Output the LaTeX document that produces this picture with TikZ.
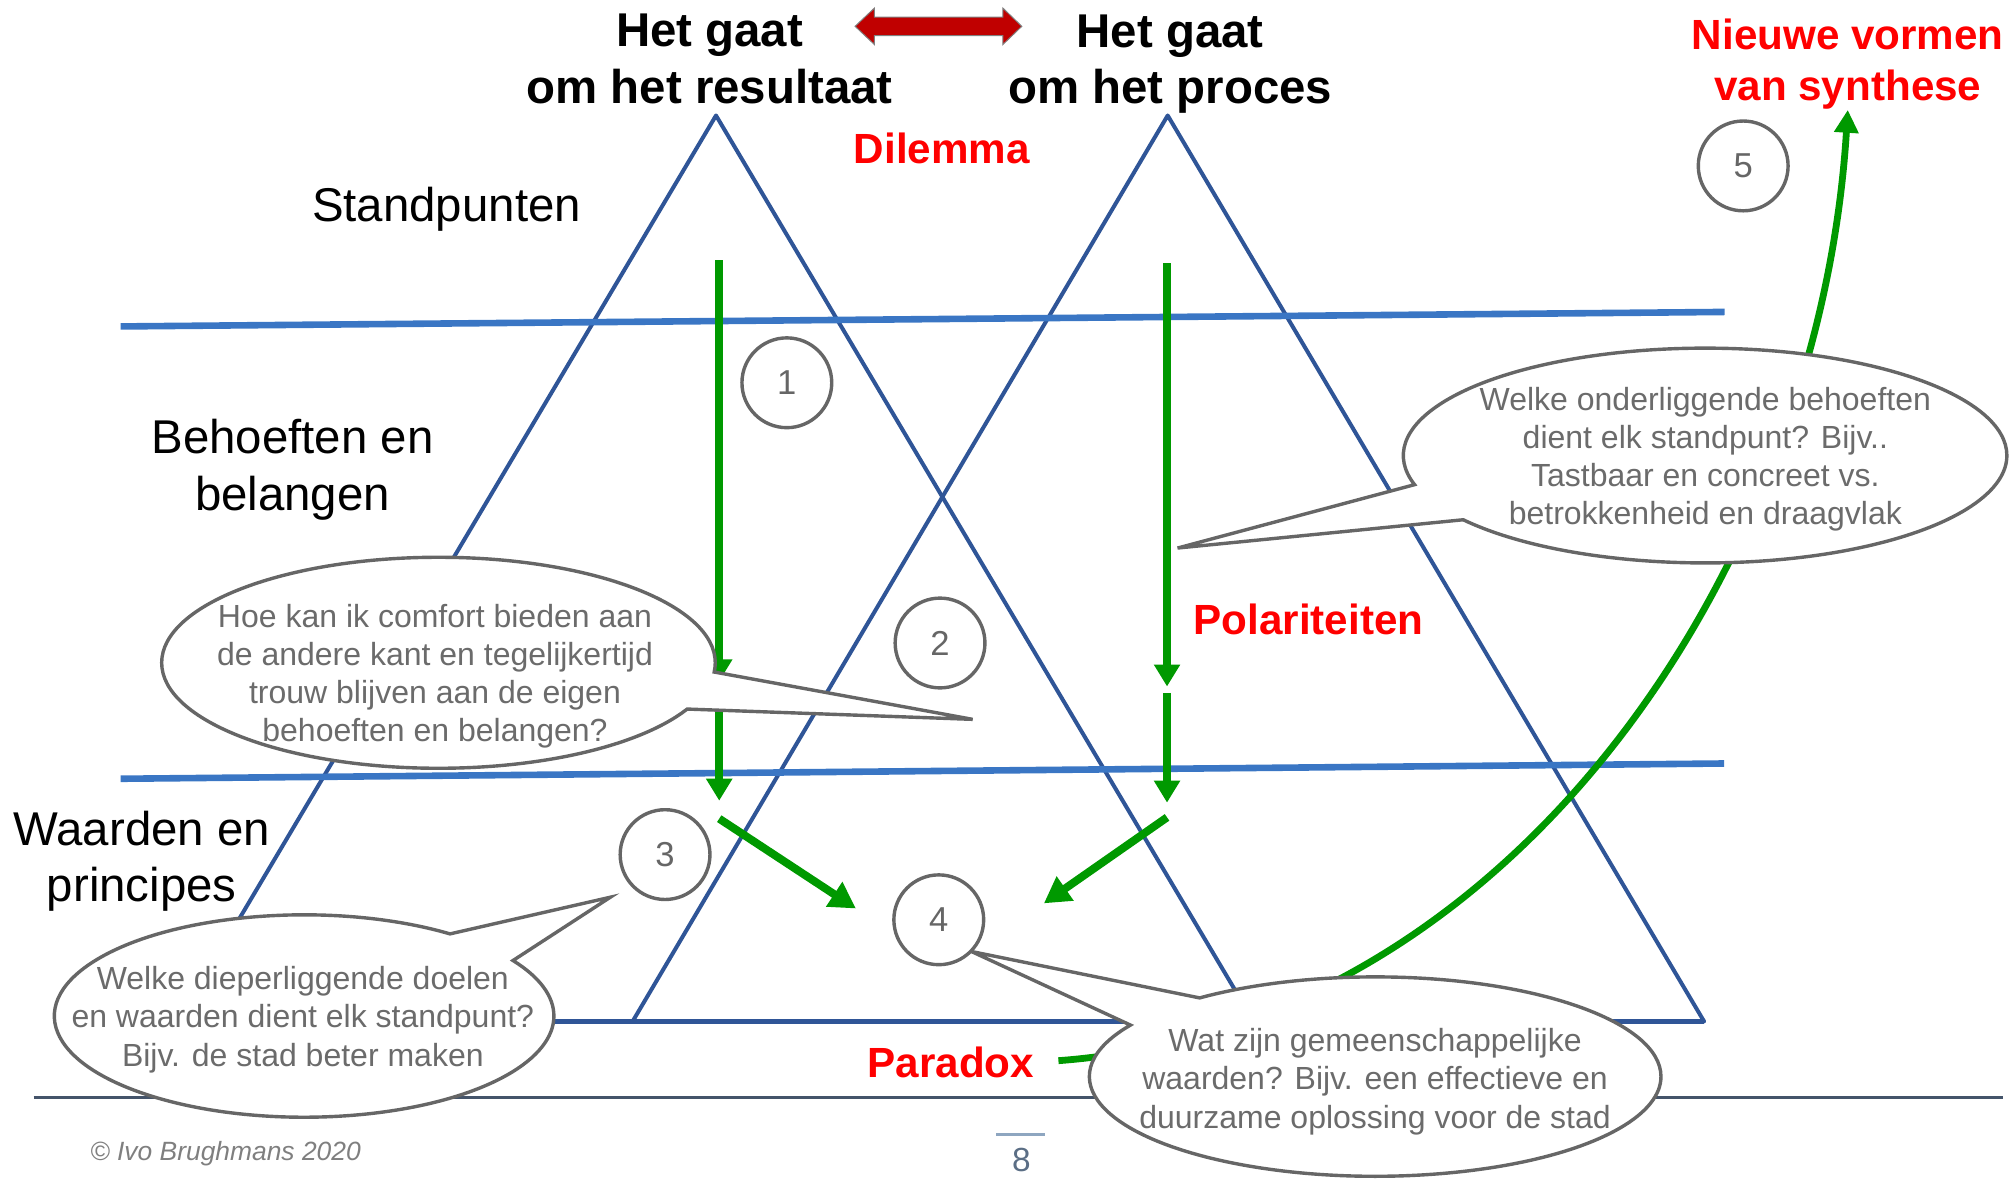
\documentclass[tikz,border=0pt]{standalone}
\usepackage{fontspec}
\setmainfont{Liberation Sans}
\usetikzlibrary{arrows.meta,shapes.callouts}
\definecolor{triblue}{HTML}{2F5597}
\definecolor{lvlblue}{HTML}{3A76C4}
\definecolor{okgreen}{HTML}{009900}
\definecolor{callgray}{HTML}{666666}
\definecolor{saygray}{HTML}{6B6B6B}
\definecolor{darkred}{HTML}{C00000}
\definecolor{footslate}{HTML}{44546A}
\definecolor{pagegray}{HTML}{8EA6C0}
\definecolor{pagenum}{HTML}{5B6E85}
\definecolor{copygray}{HTML}{7F7F7F}
\begin{document}
\begin{tikzpicture}[x=0.6416pt, y=-0.6416pt,
	ttl/.style={font=\bfseries\fontsize{23.7}{28.2}\selectfont, align=center, inner sep=0},
	lbl/.style={font=\fontsize{23.7}{28.2}\selectfont, align=center, inner sep=0},
	hot/.style={text=red, font=\bfseries\fontsize{21.1}{25.7}\selectfont, align=center, inner sep=0},
	nr/.style={circle, draw=callgray, line width=1.7pt, fill=white, minimum size=44.9pt, inner sep=0, text=callgray, font=\fontsize{17.3}{20}\selectfont},
	bub/.style={ellipse callout, draw=callgray, line width=1.7pt, fill=white, inner sep=0, callout pointer arc=21},
	say/.style={text=saygray, font=\fontsize{16}{19.1}\selectfont, align=center, inner sep=0},
	tri/.style={draw=triblue, line width=2pt, line join=round},
	lvl/.style={draw=lvlblue, line width=3.3pt},
	grn/.style={draw=okgreen, line width=4pt, -{Triangle[length=11pt,width=12.5pt]}}]
	
	\useasboundingbox (0,0) rectangle (1568,919);
	
	\draw[tri] (558,90) -- (139,796) -- (977,796) -- cycle;
	\draw[tri] (910,90) -- (493,796) -- (1328,796) -- cycle;
	\draw[tri, line width=2.45pt] (139,796) -- (1328,796);
	
	\draw[lvl] (94,254.4) -- (1344,243.1);
	\draw[lvl] (94,606.9) -- (1343.7,595);
	
	\draw[footslate, line width=1.3pt] (26.2,855.4) -- (1561,855.4);
	\draw[pagegray, line width=1.3pt] (776.5,884.2) -- (814.7,884.2);
	
	\node[ttl] (R) at (553,46) {Het gaat\\om het resultaat};
	\node[ttl] (Q) at (912,50) {Het gaat\\om het proces};
	\node[lbl] (S) at (348,163) {Standpunten};
	\node[lbl] (B) at (228,366) {Behoeften en\\belangen};
	\node[lbl] (W) at (110.5,671) {Waarden en\\principes};
	\node[hot] (D) at (734,115.5) {Dilemma};
	\node[hot] (P) at (1019.7,483) {Polariteiten};
	\node[hot] (X) at (741,828) {Paradox};
	\node[hot] (N) at (1440,50) {Nieuwe vormen\\van synthese};
	
	\coordinate (dl) at (666.4,20.5);
	\draw[gray, line width=0.5pt, fill=darkred] (dl) -- ++(15.1,-14.25) -- ++(0,7) -- ++(100,0) -- ++(0,-7) -- ++(14.8,14.25) -- ++(-14.8,14.25) -- ++(0,-7) -- ++(-100,0) -- ++(0,7) -- cycle;
	
	\coordinate (a0) at (560.5,203);
	\coordinate (a1) at (560.5,531);
	\coordinate (a2) at (560.5,554);
	\coordinate (a3) at (560.5,624);
	\coordinate (a4) at (560.5,638);
	\coordinate (b0) at (909.5,205);
	\coordinate (b1) at (909.5,535);
	\coordinate (b2) at (909.5,540);
	\coordinate (b3) at (909.5,625.5);
	\coordinate (b4) at (909.5,637);
	\coordinate (m1) at (667,708);
	\coordinate (m2) at (813.5,704);
	
	\draw[grn] (a0) -- (a1);
	\draw[grn] (a2) -- (a3);
	\draw[grn] (b0) -- (b1);
	\draw[grn] (b2) -- (b3);
	\draw[grn, -{Triangle[length=13pt,width=14pt]}] (a4) -- (m1);
	\draw[grn, -{Triangle[length=13pt,width=14pt]}] (b4) -- (m2);
	\draw[grn, line width=3.4pt, -{Triangle[length=11.4pt,width=11.7pt]}, shorten <=12pt] (X.east) .. controls (1180,800) and (1418,440) .. (N.south);
	
	\coordinate (tA) at (758,560.6);
	\coordinate (tB) at (917.7,427.1);
	\coordinate (tC) at (475.7,699.2);
	\coordinate (tD) at (757,741.5);
	
	\node[bub, minimum width=276.8pt, minimum height=105.5pt, callout absolute pointer={(tA)}] (bA) at (341.7,516.5) {};
	\node[bub, minimum width=301.8pt, minimum height=107.4pt, callout absolute pointer={(tB)}] (bB) at (1328.8,355) {};
	\node[bub, minimum width=249.8pt, minimum height=101.2pt, callout absolute pointer={(tC)}] (bC) at (237,791.8) {};
	\node[bub, minimum width=285.8pt, minimum height=99.7pt, callout absolute pointer={(tD)}] (bD) at (1071.7,839) {};
	
	\node[say] (sA) at (339,527) {Hoe kan ik comfort bieden aan\\de andere kant en tegelijkertijd\\trouw blijven aan de eigen\\behoeften en belangen?};
	\node[say] (sB) at (1329,358) {Welke onderliggende behoeften\\dient elk standpunt? Bijv..\\Tastbaar en concreet vs.\\betrokkenheid en draagvlak};
	\node[say] (sC) at (236,794.6) {Welke dieperliggende doelen\\en waarden dient elk standpunt?\\Bijv. de stad beter maken};
	\node[say] (sD) at (1071.6,843) {Wat zijn gemeenschappelijke\\waarden? Bijv. een effectieve en\\duurzame oplossing voor de stad};
	
	\node[nr] (n1) at (613.2,298.3) {1};
	\node[nr] (n2) at (732.6,501.1) {2};
	\node[nr] (n3) at (518.3,666) {3};
	\node[nr] (n4) at (731.6,716.8) {4};
	\node[nr] (n5) at (1358.5,129.3) {5};
	
	\node[text=pagenum, font=\fontsize{16.7}{20}\selectfont, inner sep=0] (pg) at (796,904) {8};
	\node[text=copygray, font=\itshape\fontsize{13.2}{16}\selectfont, inner sep=0] (cr) at (175.8,899) {© Ivo Brughmans 2020};
	
\end{tikzpicture}
\end{document}
